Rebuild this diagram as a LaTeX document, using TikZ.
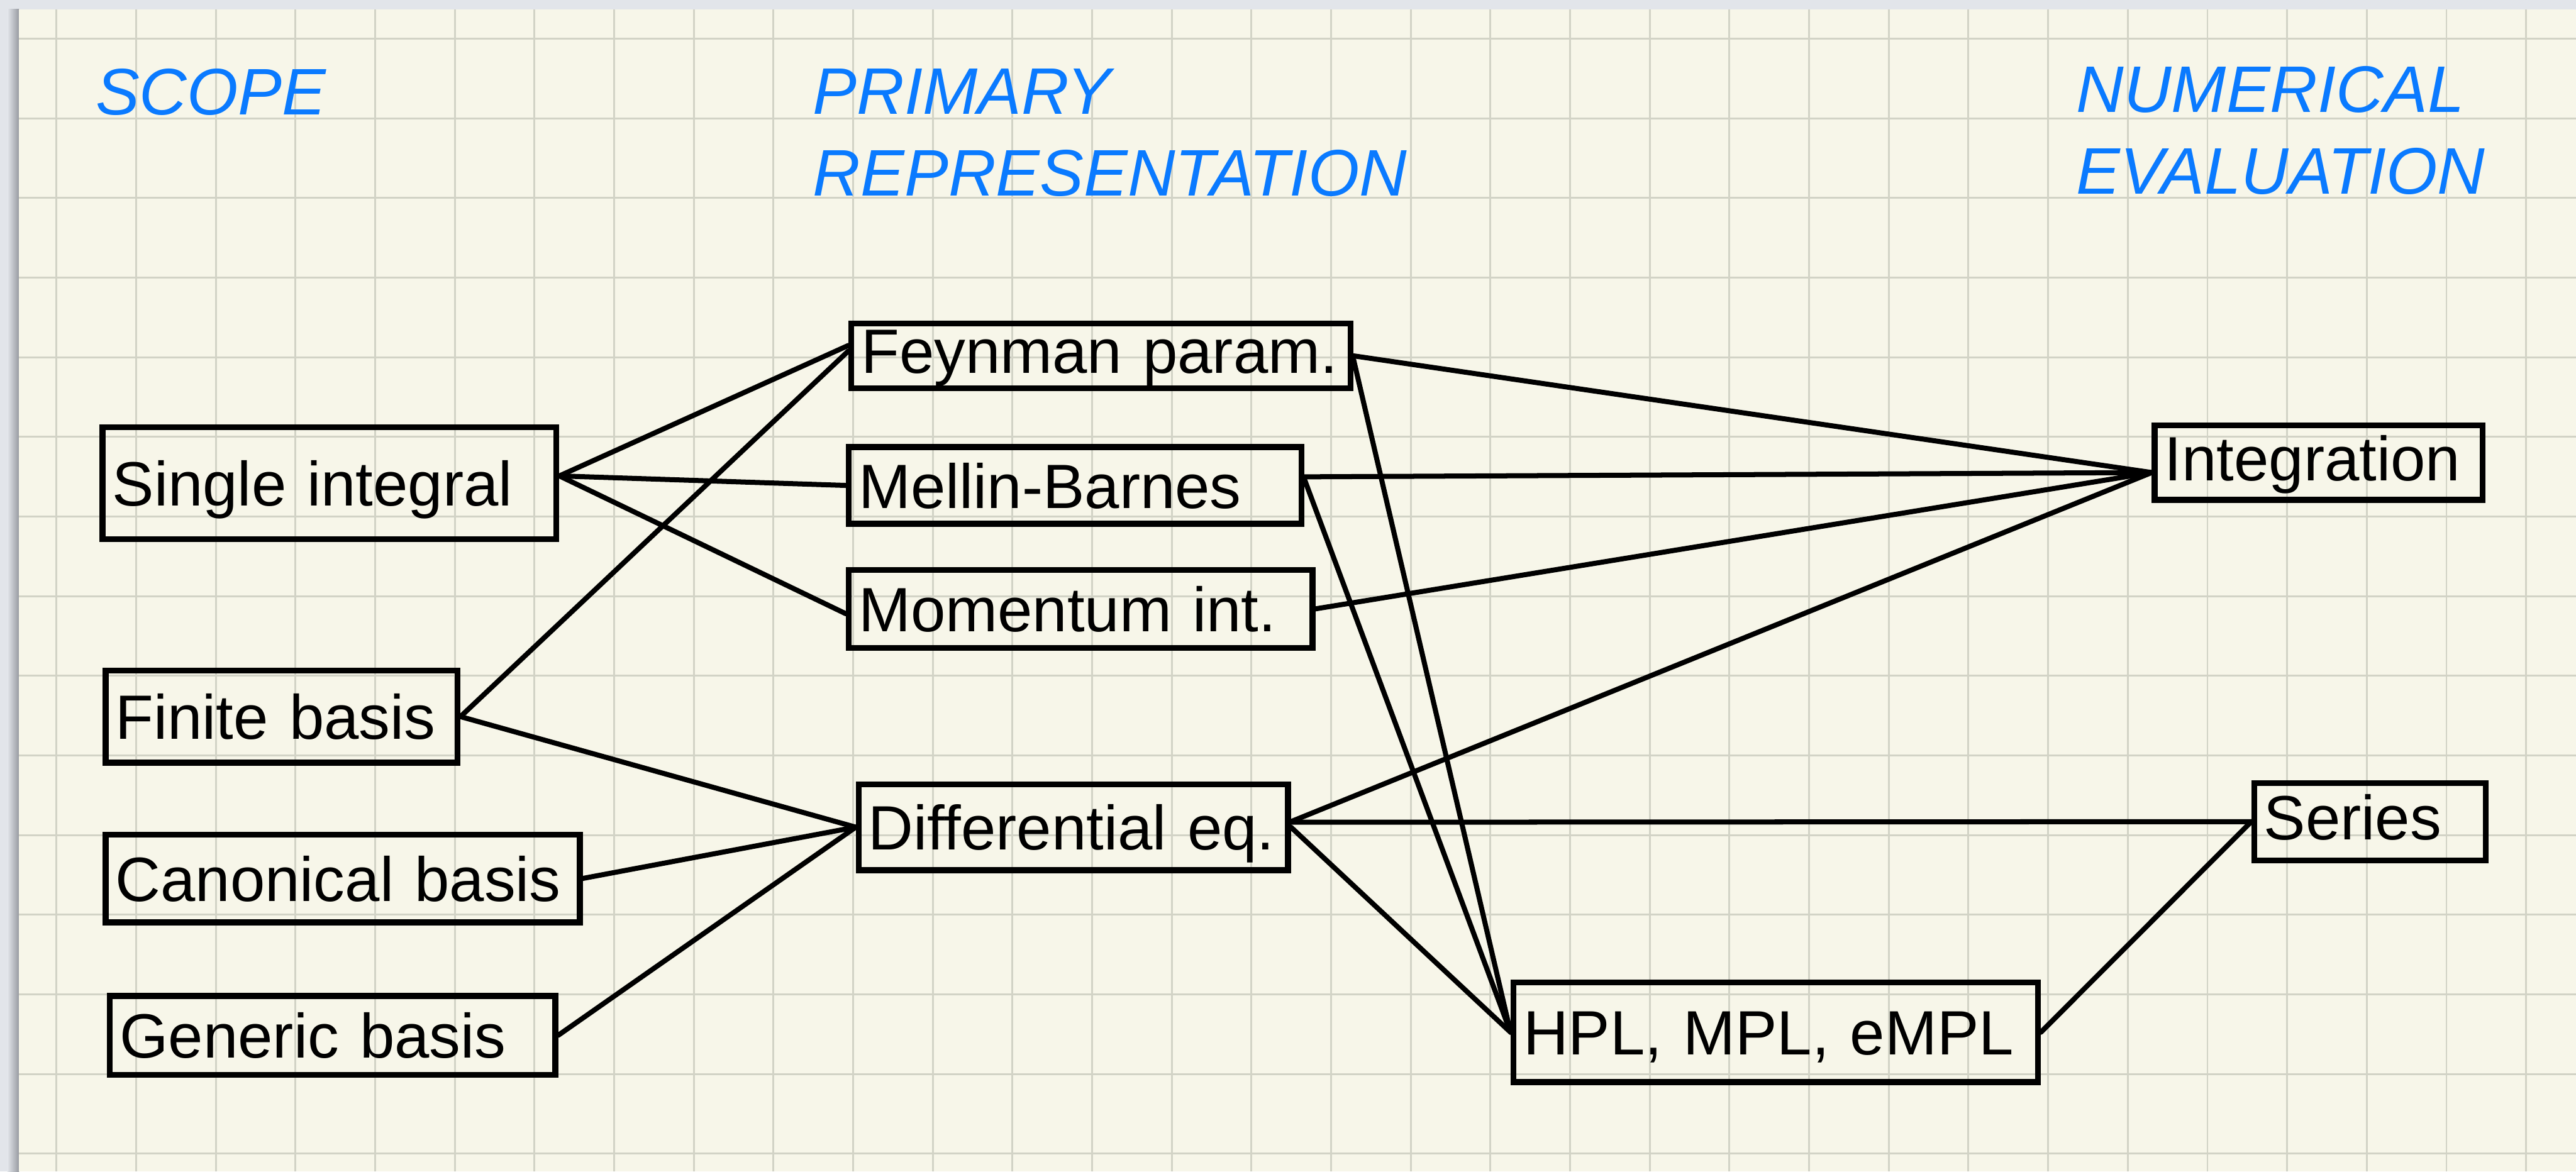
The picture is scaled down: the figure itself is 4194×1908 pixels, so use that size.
\documentclass[tikz,border=0pt]{standalone}
\usepackage{fontspec}
\setmainfont{Liberation Sans}
\definecolor{paper}{RGB}{247,246,233}
\definecolor{gridc}{RGB}{210,211,198}
\definecolor{framec}{RGB}{226,229,234}
\definecolor{shadowc}{RGB}{150,153,160}
\definecolor{hblue}{RGB}{10,122,255}
\tikzset{
  gridln/.style={draw=gridc, line width=0.03cm},
  box/.style={draw=black, line width=0.095cm, rectangle, inner xsep=0.16cm, inner ysep=0pt,
    text height=0.74cm, text depth=0pt, align=left, font=\fontsize{29}{34}\selectfont},
  conn/.style={draw=black, line width=0.082cm, line cap=round},
  hdr/.style={anchor=base west, inner sep=0pt, text=hblue, font=\fontsize{30.5}{36}\selectfont\itshape},
}
\begin{document}
\begin{tikzpicture}[x=0.1mm,y=-0.1mm]
\useasboundingbox (0,0) rectangle (4194,1908);
% frame and paper
\fill[framec] (0,0) rectangle (4194,1908);
\shade[left color=framec, right color=shadowc] (12,15) rectangle (31,1908);
\fill[paper] (31,15) rectangle (4194,1908);
% grid
\foreach \k in {0,...,31} \draw[gridln] ({92+129.7*\k},15) -- ({92+129.7*\k},1908);
\foreach \k in {0,...,14} \draw[gridln] (31,{63+129.7*\k}) -- (4194,{63+129.7*\k});
% headers
\node[hdr] (h1) at (155,187) {SCOPE};
\node[hdr] (h2a) at (1323,186) {PRIMARY};
\node[hdr] (h2b) at (1323,319) {REPRESENTATION};
\node[hdr] (h3a) at (3380,183) {NUMERICAL};
\node[hdr] (h3b) at (3380,316) {EVALUATION};
% boxes
\node[box, text width=7.07cm, minimum height=1.82cm] (si) at (536.5,787) {\mbox{Single integral}};
\node[box, text width=5.41cm, minimum height=1.50cm] (fb) at (458.5,1167) {\mbox{Finite basis}};
\node[box, text width=7.40cm, minimum height=1.43cm] (cb) at (558,1430.5) {\mbox{Canonical basis}};
\node[box, text width=6.93cm, minimum height=1.28cm] (gb) at (541.5,1686) {\mbox{Generic basis}};
\node[box, text width=7.81cm, minimum height=1.05cm, text depth=0.18cm] (fp) at (1792.5,579.5) {\mbox{Feynman param.}};
\node[box, text width=7.05cm, minimum height=1.25cm] (mb) at (1750.5,790.5) {\mbox{Mellin-Barnes}};
\node[box, text width=7.23cm, minimum height=1.27cm] (mi) at (1759.5,991.5) {\mbox{Momentum int.}};
\node[box, text width=6.67cm, minimum height=1.40cm] (de) at (1747.5,1347) {\mbox{Differential eq.}};
\node[box, text width=8.22cm, minimum height=1.62cm] (hp) at (2891,1681) {\mbox{HPL, MPL, eMPL}};
\node[box, text width=5.02cm, minimum height=1.21cm, text depth=0.16cm] (in) at (3775,753.5) {\mbox{Integration}};
\node[box, text width=3.45cm, minimum height=1.26cm, text depth=0.16cm] (se) at (3858.5,1338) {\mbox{Series}};
% connectors
\coordinate (inw) at ([yshift=-0.16cm]in.west);
\draw[conn] ([yshift=0.12cm]si.east) -- ([yshift=0.17cm]fp.west);
\draw[conn] ([yshift=0.12cm]si.east) -- (mb.west);
\draw[conn] ([yshift=0.12cm]si.east) -- ([yshift=-0.08cm]mi.west);
\draw[conn] (fb.east) -- ([yshift=0.08cm]fp.west);
\draw[conn] (fb.east) -- (de.west);
\draw[conn] (cb.east) -- (de.west);
\draw[conn] (gb.east) -- (de.west);
\draw[conn] (fp.east) -- (inw);
\draw[conn] ([yshift=-0.06cm]fp.east) -- (hp.west);
\draw[conn] ([yshift=0.14cm]mb.east) -- (inw);
\draw[conn] ([yshift=0.10cm]mb.east) -- (hp.west);
\draw[conn] (mi.east) -- (inw);
\draw[conn] ([yshift=0.09cm]de.east) -- (inw);
\draw[conn] ([yshift=0.08cm]de.east) -- (se.west);
\draw[conn] (de.east) -- (hp.west);
\draw[conn] (hp.east) -- (se.west);
\end{tikzpicture}
\end{document}
